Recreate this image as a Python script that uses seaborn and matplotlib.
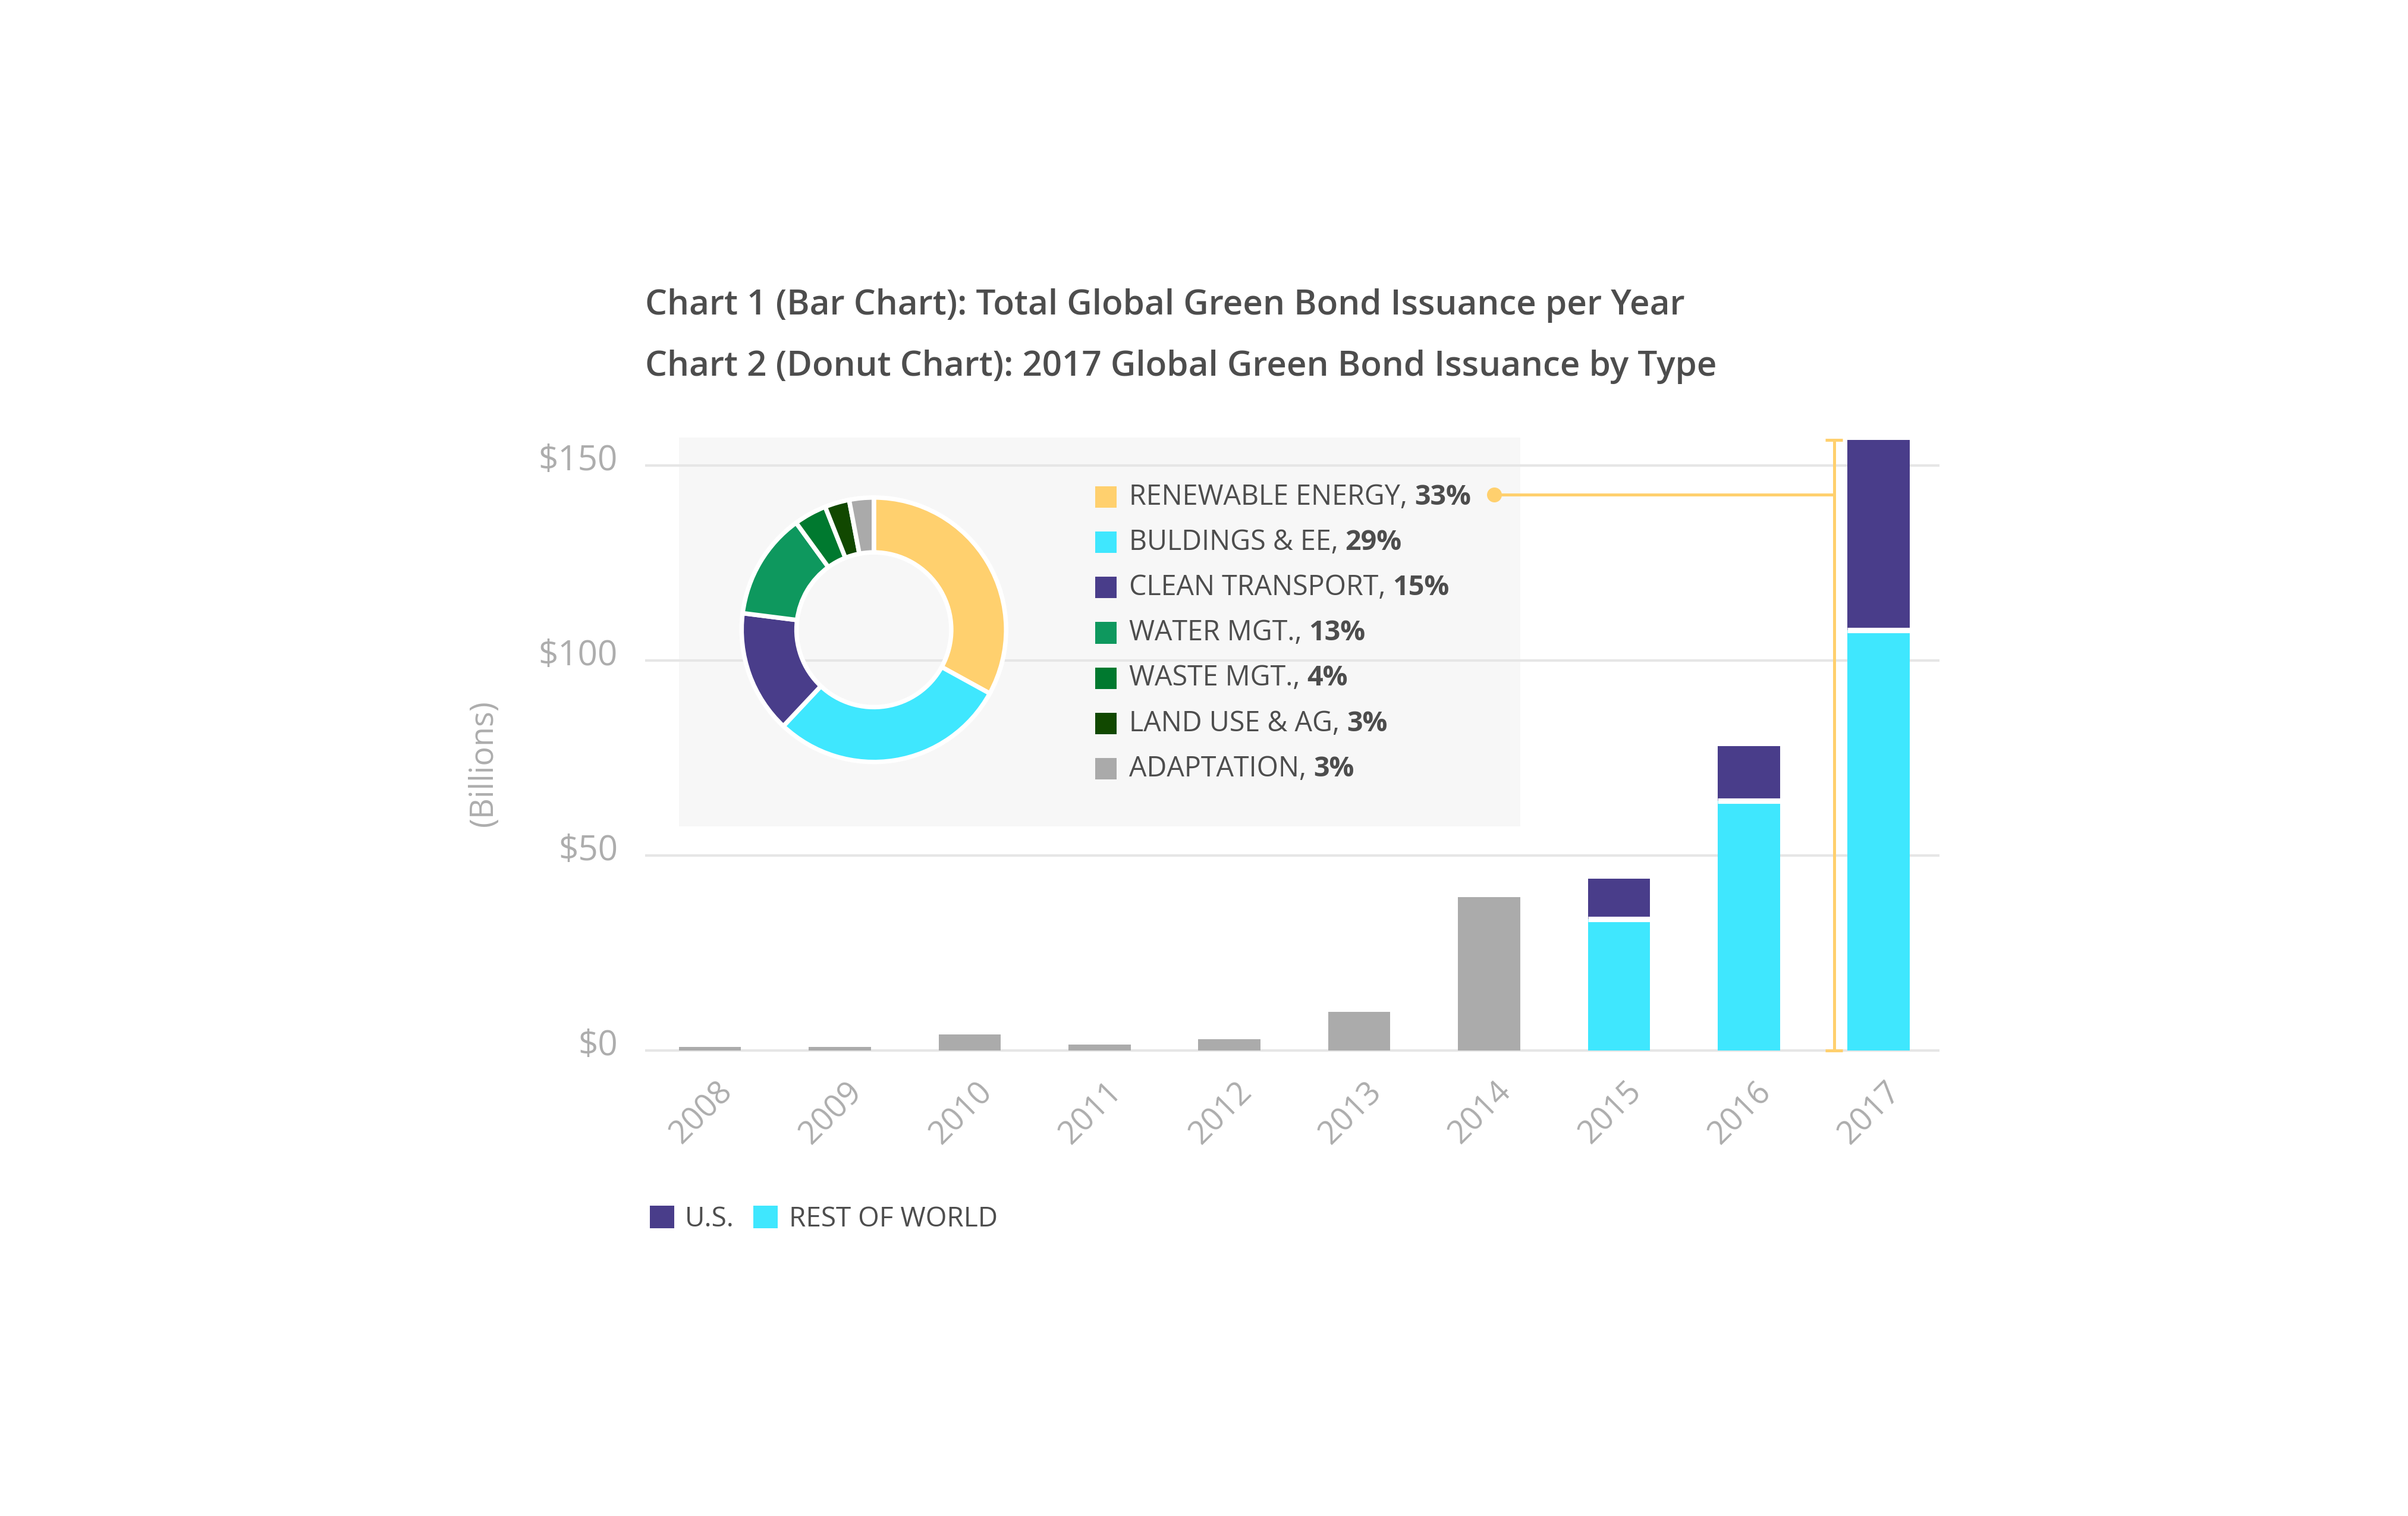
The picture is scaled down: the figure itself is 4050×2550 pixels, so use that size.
import matplotlib
matplotlib.use("Agg")
import matplotlib.pyplot as plt
import matplotlib.transforms as mtransforms
import seaborn as sns
import pandas as pd
import numpy as np
from matplotlib.patches import Rectangle, Patch

# data
years = ["2008", "2009", "2010", "2011", "2012", "2013", "2014", "2015", "2016", "2017"]
totals = [0.9, 0.9, 4.2, 1.6, 2.9, 9.9, 39.3, 44.0, 78.0, 156.6]
row_years = ["2015", "2016", "2017"]
row_values = [33.7, 64.1, 107.8]

donut_labels = ["RENEWABLE ENERGY", "BULDINGS & EE", "CLEAN TRANSPORT", "WATER MGT.",
                "WASTE MGT.", "LAND USE & AG", "ADAPTATION"]
donut_values = [33, 29, 15, 13, 4, 3, 3]

GRAY = "#ABABAB"
PURPLE = "#493D8A"
CYAN = "#3FE7FE"
YELLOW = "#FFD06E"
donut_colors = [YELLOW, CYAN, PURPLE, "#0E985E", "#00792F", "#114800", "#AAAAAA"]
TEXT = "#4D4D4D"
LIGHT = "#ADADAD"

sns.set_theme(style="white")
plt.rcParams["font.family"] = ["Open Sans", "DejaVu Sans"]

fig = plt.figure(figsize=(13.5, 8.5), dpi=300)

# light panel behind the donut (below the axes so the gridlines show through)
fig.patches.append(Rectangle((0.2819, 0.4549), 0.3495, 0.2563, transform=fig.transFigure,
                             facecolor="#F7F7F7", edgecolor="none", zorder=-1))

ax = fig.add_axes([0.2679, 0.3044, 0.5376, 0.4143])
ax.set_facecolor("none")

# bar colours: gray until the split is known, then purple (U.S.) stacked on cyan
bar_colors = {y: (GRAY if y not in row_years else PURPLE) for y in years}
df = pd.DataFrame({"year": years, "total": totals})
sns.barplot(data=df, x="year", y="total", hue="year", palette=bar_colors, order=years,
            legend=False, width=0.479, saturation=1, linewidth=0, ax=ax)
df_row = pd.DataFrame({"year": row_years, "row": row_values})
sns.barplot(data=df_row, x="year", y="row", order=years, color=CYAN, width=0.479,
            saturation=1, linewidth=0, ax=ax)

# thin white gap between the two stacked segments
for rect in ax.containers[-1]:
    h = rect.get_height()
    if np.isfinite(h) and h > 0:
        ax.hlines(h, rect.get_x(), rect.get_x() + rect.get_width(), color="white",
                  linewidth=2.2, zorder=5)

ax.set_xlim(-0.5, 9.47)
ax.set_ylim(-1, 160)
ax.set_yticks([0, 50, 100, 150])
ax.set_yticklabels(["$0", "$50", "$100", "$150"])
ax.grid(axis="y", color="#E6E6E6", linewidth=1)
ax.set_axisbelow(True)
sns.despine(ax=ax, left=True, bottom=True)
ax.tick_params(axis="y", length=0, pad=11, labelsize=14, labelcolor=LIGHT)
ax.tick_params(axis="x", length=0, pad=9, labelsize=13, labelcolor=LIGHT)
y_shift = mtransforms.ScaledTranslation(0, 3.4 / 72, fig.dpi_scale_trans)
for lab in ax.get_yticklabels():
    lab.set_transform(lab.get_transform() + y_shift)
x_shift = mtransforms.ScaledTranslation(-3.5 / 72, 0.6 / 72, fig.dpi_scale_trans)
for lab in ax.get_xticklabels():
    lab.set_rotation(45)
    lab.set_ha("center")
    lab.set_transform(lab.get_transform() + x_shift)
ax.set_xlabel("")
ax.set_ylabel("")

# bracket marking the 2017 total, linked to the renewable energy label
bx = 9 - 0.343
ax.vlines(bx, 0, totals[-1], color=YELLOW, linewidth=1.2)
ax.hlines([0, totals[-1]], bx - 0.066, bx + 0.066, color=YELLOW, linewidth=1.2)
ax.plot([6.04, bx], [142.5, 142.5], color=YELLOW, linewidth=1.2)
ax.plot([6.04], [142.5], "o", color=YELLOW, markersize=5)

# titles and axis label
fig.text(0.2679, 0.7984, "Chart 1 (Bar Chart): Total Global Green Bond Issuance per Year",
         fontsize=14, fontweight="semibold", color=TEXT, va="center")
fig.text(0.2679, 0.7579, "Chart 2 (Donut Chart): 2017 Global Green Bond Issuance by Type",
         fontsize=14, fontweight="semibold", color=TEXT, va="center")
fig.text(0.2009, 0.4965, "(Billions)", rotation=90, fontsize=13, color=LIGHT,
         ha="center", va="center")

# donut
pax = fig.add_axes([0.3074, 0.4965, 0.1110, 0.1762])
pax.pie(donut_values, colors=donut_colors, startangle=90, counterclock=False,
        wedgeprops=dict(width=0.415, edgecolor="white", linewidth=1.8))
pax.set_xlim(-1.01, 1.01)
pax.set_ylim(-1.01, 1.01)
pax.set_aspect("equal")
pax.axis("off")

# donut legend with a bold percentage after each name
row_y0 = 1 - 323.5 / 987
row_step = 29.5 / 987
sq_w, sq_h = 14 / 1568, 14 / 987
for i, (name, val, col) in enumerate(zip(donut_labels, donut_values, donut_colors)):
    yy = row_y0 - i * row_step
    fig.patches.append(Rectangle((0.4547, yy - sq_h / 2), sq_w, sq_h, transform=fig.transFigure,
                                 facecolor=col, edgecolor="none", zorder=3))
    t = fig.text(0.4688, yy, name + ", ", fontsize=11.2, color=TEXT, va="center")
    ax.annotate(f"{val}%", xy=(1, 0), xycoords=t, fontsize=11.2, fontweight="bold",
                color=TEXT, va="bottom", ha="left", annotation_clip=False)

# bottom legend for the bar split
handles = [Patch(facecolor=PURPLE, edgecolor="none", label="U.S."),
           Patch(facecolor=CYAN, edgecolor="none", label="REST OF WORLD")]
fig.legend(handles=handles, loc="center left", bbox_to_anchor=(0.2698, 0.1956), ncol=2,
           frameon=False, fontsize=11, handlelength=0.9, handleheight=0.9,
           handletextpad=0.4, columnspacing=0.7, borderpad=0, borderaxespad=0,
           labelcolor=TEXT)

fig.savefig("out.png", dpi=300, facecolor="white")
